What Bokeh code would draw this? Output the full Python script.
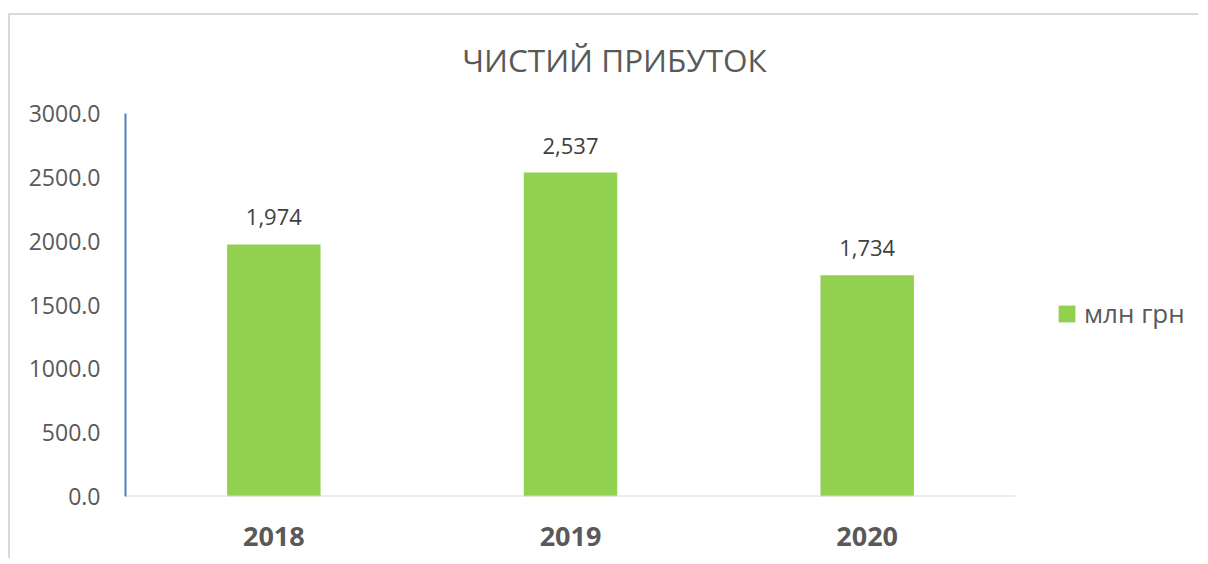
from bokeh.plotting import figure
from bokeh.models import (ColumnDataSource, Range1d, LabelSet, Label,
                          Legend, LegendItem, FixedTicker, NumeralTickFormatter)
from bokeh.core.properties import value
from bokeh.embed import file_html
from bokeh.resources import INLINE

years = ["2018", "2019", "2020"]
profit = [1974, 2537, 1734]
profit_labels = ["1,974", "2,537", "1,734"]
series_name = "млн грн"
title_text = "ЧИСТИЙ ПРИБУТОК"
y_ticks = [0, 500, 1000, 1500, 2000, 2500, 3000]
y_max = 3000

FONT = "Open Sans"
GRAY = "#595959"
GREEN = "#92D050"

pos = [i + 0.5 for i in range(len(years))]
src = ColumnDataSource(dict(x=pos, year=years, value=profit, label=profit_labels))

W, H = 1190, 545
LEFT, BOTTOM = 115, 64
CAT_PX = 296.67          # pixel width of one category slot
VAL_PX = 383.0 / y_max   # pixels per unit of value
frame_w, frame_h = W - LEFT, H - BOTTOM

p = figure(x_range=Range1d(0, frame_w / CAT_PX), y_range=Range1d(0, frame_h / VAL_PX),
           width=W, height=H, output_backend="svg", toolbar_location=None,
           min_border_left=LEFT, min_border_right=0, min_border_top=0,
           min_border_bottom=BOTTOM)
p.margin = (13, 0, 0, 8)
p.styles = {"border-top": "2px solid #D9D9D9", "border-left": "2px solid #D9D9D9"}
p.outline_line_color = None
p.background_fill_color = "white"
p.border_fill_color = "white"
p.grid.visible = False

r = p.vbar(x="x", top="value", width=0.315, source=src, fill_color=GREEN,
           line_color=None)

# category baseline (x axis line) spanning only the categories
p.segment(x0=[0], x1=[len(years)], y0=[0], y1=[0], line_color="#D9D9D9", line_width=2)

# y axis
p.yaxis.ticker = FixedTicker(ticks=y_ticks)
p.yaxis.bounds = (0, y_max)
p.yaxis.formatter = NumeralTickFormatter(format="0.0")
p.yaxis.axis_line_color = "#4F81BD"
p.yaxis.axis_line_width = 2
p.yaxis.major_tick_line_color = None
p.yaxis.minor_tick_line_color = None
p.yaxis.major_label_text_font = FONT
p.yaxis.major_label_text_font_size = "23px"
p.yaxis.major_label_text_color = GRAY
p.yaxis.major_label_standoff = 19

# x axis (category labels)
p.xaxis.ticker = FixedTicker(ticks=pos)
p.xaxis.major_label_overrides = {x: y for x, y in zip(pos, years)}
p.xaxis.axis_line_color = None
p.xaxis.major_tick_line_color = None
p.xaxis.minor_tick_line_color = None
p.xaxis.major_label_text_font = FONT
p.xaxis.major_label_text_font_size = "27px"
p.xaxis.major_label_text_font_style = "bold"
p.xaxis.major_label_text_color = GRAY
p.xaxis.major_label_standoff = 24

labels = LabelSet(x="x", y="value", text="label", source=src,
                  text_align="center", text_baseline="alphabetic", y_offset=19,
                  text_font=value(FONT), text_font_size=value("22px"),
                  text_color="#404040")
p.add_layout(labels)

title = Label(x=489, y=437, x_units="screen", y_units="screen", text=title_text,
              text_align="center", text_baseline="middle", text_font=FONT,
              text_font_size="31.5px", text_color=GRAY)
p.add_layout(title)

legend = Legend(items=[LegendItem(label=series_name, renderers=[r])],
                location=(931, 165), padding=0, margin=0, spacing=0,
                glyph_width=21, glyph_height=21, label_standoff=7,
                label_text_font=FONT, label_text_font_size="26px",
                label_text_color=GRAY, border_line_color=None,
                background_fill_alpha=0)
p.add_layout(legend)

open("out.html", "w").write(file_html(p, INLINE))
